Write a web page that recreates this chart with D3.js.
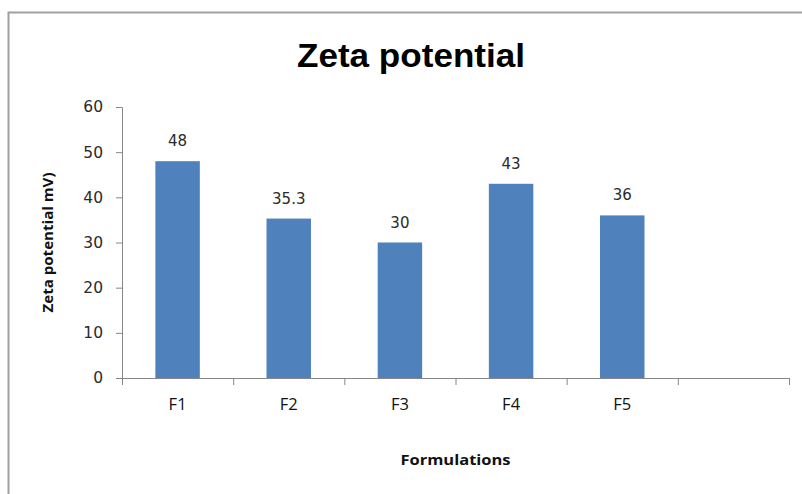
<!DOCTYPE html>
<html>
<head>
<meta charset="utf-8">
<script src="https://cdn.jsdelivr.net/npm/d3@7"></script>
<style>
  body { margin: 0; background: #fff; }
  svg { display: block; }
</style>
</head>
<body>
<div id="chart"></div>
<script>
// chart data
var categories = ["F1", "F2", "F3", "F4", "F5", ""];
var values = [48, 35.3, 30, 43, 36];
var valueLabels = ["48", "35.3", "30", "43", "36"];
var yTicks = [0, 10, 20, 30, 40, 50, 60];

var W = 802, H = 494;
var margin = {left: 122, right: 13, top: 107, bottom: 116};
var width = W - margin.left - margin.right;
var height = H - margin.top - margin.bottom;

var svg = d3.select("#chart").append("svg")
    .attr("width", W)
    .attr("height", H);

// frame of the chart area (only top and left edges are in view)
svg.append("path")
    .attr("d", "M8.5,494 L8.5,12.5 L802,12.5")
    .attr("fill", "none")
    .attr("stroke", "#a0a0a0")
    .attr("stroke-width", 2);

svg.append("text")
    .attr("x", 411)
    .attr("y", 67)
    .attr("text-anchor", "middle")
    .style("font-family", "'Liberation Sans', Arial, sans-serif")
    .style("font-weight", "bold")
    .style("font-size", "34px")
    .attr("textLength", 228)
    .attr("lengthAdjust", "spacingAndGlyphs")
    .attr("fill", "#000")
    .text("Zeta potential");

var g = svg.append("g")
    .attr("transform", "translate(" + margin.left + "," + margin.top + ")");

var x = d3.scaleBand()
    .domain(categories)
    .range([0, width])
    .paddingInner(0.6)
    .paddingOuter(0.3);

var y = d3.scaleLinear()
    .domain([0, 60])
    .range([height, 0]);

// y axis
var yAxis = d3.axisLeft(y).tickValues(yTicks).tickSize(6).tickPadding(13);
var ya = g.append("g").attr("class", "y axis").call(yAxis);
ya.select(".domain").attr("stroke", "#868686");
ya.selectAll(".tick line").attr("stroke", "#868686");
ya.selectAll(".tick text")
    .style("font-family", "'DejaVu Sans', Verdana, sans-serif")
    .style("font-size", "15.5px")
    .attr("fill", "#2a2a2a");

// x axis: boundary ticks
var xb = d3.scaleLinear().domain([0, categories.length]).range([0, width]);
var xbAxis = d3.axisBottom(xb).ticks(categories.length).tickSize(7).tickFormat("");
var xa = g.append("g")
    .attr("class", "x axis")
    .attr("transform", "translate(0," + height + ")")
    .call(xbAxis);
xa.select(".domain").attr("stroke", "#868686");
xa.selectAll(".tick line").attr("stroke", "#868686");

// category labels
var xLab = d3.axisBottom(x).tickSize(0).tickPadding(20);
var xl = g.append("g")
    .attr("transform", "translate(0," + height + ")")
    .call(xLab);
xl.select(".domain").remove();
xl.selectAll(".tick text")
    .style("font-family", "'Open Sans', sans-serif")
    .style("font-size", "16.5px")
    .attr("fill", "#111");

// bars
g.selectAll(".bar")
    .data(values)
    .enter()
    .append("rect")
    .attr("class", "bar")
    .attr("x", function(d, i) { return x(categories[i]); })
    .attr("width", x.bandwidth())
    .attr("y", function(d) { return y(d); })
    .attr("height", function(d) { return height - y(d); })
    .attr("fill", "#4f81bd");

// value labels
g.selectAll(".val")
    .data(values)
    .enter()
    .append("text")
    .attr("class", "val")
    .attr("x", function(d, i) { return x(categories[i]) + x.bandwidth() / 2; })
    .attr("y", function(d) { return y(d) - 15; })
    .attr("text-anchor", "middle")
    .style("font-family", "'DejaVu Sans', Verdana, sans-serif")
    .style("font-size", "15px")
    .attr("fill", "#2a2a2a")
    .text(function(d, i) { return valueLabels[i]; });

// axis titles
svg.append("text")
    .attr("x", margin.left + width / 2)
    .attr("y", 465)
    .attr("text-anchor", "middle")
    .style("font-family", "'Open Sans', sans-serif")
    .style("font-weight", "bold")
    .style("font-size", "15px")
    .attr("textLength", 110)
    .attr("lengthAdjust", "spacingAndGlyphs")
    .attr("fill", "#111")
    .text("Formulations");

svg.append("text")
    .attr("transform", "translate(53," + (margin.top + height / 2) + ") rotate(-90)")
    .attr("text-anchor", "middle")
    .style("font-family", "'Open Sans', sans-serif")
    .style("font-weight", "bold")
    .style("font-size", "15px")
    .attr("textLength", 140)
    .attr("lengthAdjust", "spacingAndGlyphs")
    .attr("fill", "#111")
    .text("Zeta potential mV)");
</script>
</body>
</html>
